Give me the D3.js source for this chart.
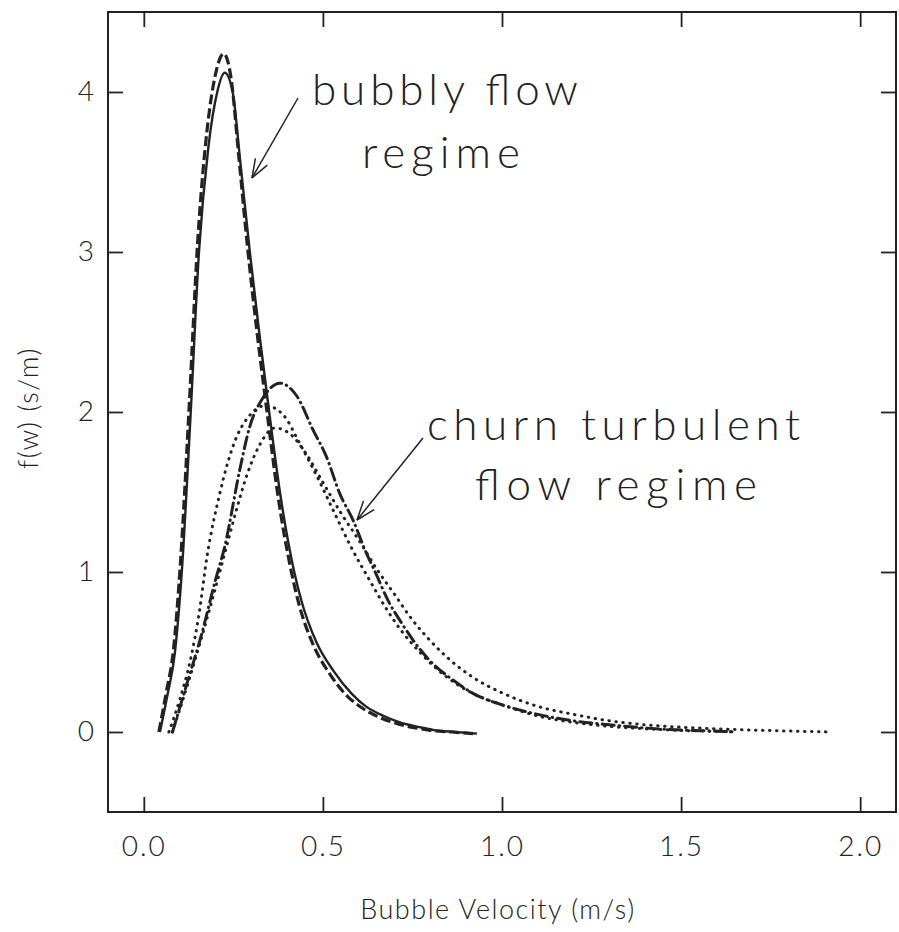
<!DOCTYPE html>
<html>
<head>
<meta charset="utf-8">
<script src="https://cdn.jsdelivr.net/npm/d3@7"></script>
<style>
  body { margin: 0; background: #fff; }
  text { font-family: Lato, "Open Sans", sans-serif; font-weight: 300; fill: #222; }
</style>
</head>
<body>
<script>
const width = 899;
const height = 932;

// axis ticks
const xTicks = [0.0, 0.5, 1.0, 1.5, 2.0];
const yTicks = [0, 1, 2, 3, 4];

// bubbly flow regime curves [velocity, f(w)]
const bubblySolid = [
    [0.045, 0], [0.065, 0.22], [0.087, 0.5], [0.106, 1.0], [0.131, 2.0],
    [0.154, 3.0], [0.18, 3.65], [0.205, 4.0], [0.226, 4.12], [0.248, 4.0],
    [0.27, 3.55], [0.296, 3.0], [0.322, 2.5], [0.35, 2.0], [0.38, 1.5],
    [0.42, 1.0], [0.44, 0.82], [0.48, 0.57], [0.53, 0.38], [0.58, 0.24],
    [0.62, 0.16], [0.67, 0.1], [0.715, 0.06], [0.77, 0.03], [0.81, 0.012],
    [0.87, 0.0], [0.93, -0.01]
];
const bubblyDashed = [
    [0.042, 0], [0.062, 0.24], [0.083, 0.52], [0.102, 1.05], [0.127, 2.05],
    [0.15, 3.05], [0.176, 3.75], [0.201, 4.12], [0.223, 4.24], [0.244, 4.08],
    [0.265, 3.6], [0.29, 3.02], [0.316, 2.5], [0.344, 2.0], [0.373, 1.5],
    [0.412, 1.0], [0.433, 0.8], [0.472, 0.55], [0.52, 0.36], [0.57, 0.22],
    [0.61, 0.15], [0.66, 0.09], [0.71, 0.05], [0.76, 0.025], [0.8, 0.01],
    [0.86, 0.0], [0.92, -0.01]
];

// churn turbulent flow regime curves
const churnDashDot = [
    [0.08, 0], [0.12, 0.3], [0.16, 0.6], [0.2, 0.95], [0.226, 1.16],
    [0.268, 1.64], [0.296, 1.91], [0.333, 2.09], [0.38, 2.18], [0.427, 2.1],
    [0.472, 1.89], [0.51, 1.72], [0.547, 1.49], [0.585, 1.32], [0.617, 1.14],
    [0.65, 0.98], [0.68, 0.83], [0.72, 0.68], [0.77, 0.52], [0.81, 0.42],
    [0.86, 0.33], [0.92, 0.24], [1.0, 0.17], [1.1, 0.11], [1.2, 0.07],
    [1.3, 0.045], [1.4, 0.025], [1.5, 0.012], [1.6, 0.005], [1.65, 0.0]
];
const churnDotA = [
    [0.07, 0], [0.1, 0.2], [0.13, 0.45], [0.155, 0.75], [0.176, 1.09],
    [0.212, 1.49], [0.248, 1.78], [0.3, 1.99], [0.34, 2.04], [0.39, 1.98],
    [0.436, 1.8], [0.483, 1.6], [0.53, 1.38], [0.58, 1.15], [0.63, 0.95],
    [0.68, 0.76], [0.72, 0.63], [0.77, 0.5], [0.82, 0.39], [0.88, 0.29],
    [0.95, 0.21], [1.0, 0.17], [1.1, 0.1], [1.2, 0.06], [1.3, 0.035],
    [1.4, 0.02], [1.5, 0.01], [1.6, 0.004], [1.65, 0.0]
];
const churnDotB = [
    [0.08, 0], [0.12, 0.28], [0.16, 0.58], [0.2, 0.9], [0.23, 1.15],
    [0.26, 1.4], [0.29, 1.62], [0.32, 1.78], [0.366, 1.9], [0.41, 1.86],
    [0.45, 1.75], [0.5, 1.56], [0.55, 1.37], [0.6, 1.2], [0.65, 1.02],
    [0.7, 0.86], [0.75, 0.7], [0.8, 0.57], [0.855, 0.45], [0.92, 0.34],
    [1.0, 0.245], [1.1, 0.16], [1.2, 0.11], [1.3, 0.07], [1.4, 0.045],
    [1.5, 0.03], [1.6, 0.02], [1.7, 0.012], [1.8, 0.006], [1.92, 0.0]
];

const svg = d3
    .select("body")
    .append("svg")
    .attr("width", width)
    .attr("height", height);

const x = d3.scaleLinear().domain([-0.1, 2.1]).range([108, 896]);
const y = d3.scaleLinear().domain([-0.5, 4.5]).range([812, 12]);

const tickLen = 15;

// frame
svg.append("rect")
    .attr("x", x(-0.1))
    .attr("y", y(4.5))
    .attr("width", x(2.1) - x(-0.1))
    .attr("height", y(-0.5) - y(4.5))
    .attr("fill", "none")
    .attr("stroke", "#222")
    .attr("stroke-width", 2);

// ticks point inward on all four sides
const xAxisB = d3.axisBottom(x).tickValues(xTicks).tickSize(-tickLen).tickFormat(d3.format(".1f")).tickPadding(24);
const xAxisT = d3.axisTop(x).tickValues(xTicks).tickSize(-tickLen).tickFormat("");
const yAxisL = d3.axisLeft(y).tickValues(yTicks).tickSize(-tickLen).tickFormat(d3.format("d")).tickPadding(12);
const yAxisR = d3.axisRight(y).tickValues(yTicks).tickSize(-tickLen).tickFormat("");

function styleAxis(g) {
    g.select(".domain").remove();
    g.selectAll(".tick line").attr("stroke", "#222").attr("stroke-width", 1.8);
    g.selectAll(".tick text")
        .attr("font-family", "Lato, 'Open Sans', sans-serif")
        .attr("font-size", 28)
        .attr("letter-spacing", 2)
        .style("fill", "#222");
}

svg.append("g").attr("transform", `translate(0,${y(-0.5)})`).call(xAxisB).call(styleAxis);
svg.append("g").attr("transform", `translate(0,${y(4.5)})`).call(xAxisT).call(styleAxis);
svg.append("g").attr("transform", `translate(${x(-0.1)},0)`).call(yAxisL).call(styleAxis);
svg.append("g").attr("transform", `translate(${x(2.1)},0)`).call(yAxisR).call(styleAxis);

// axis titles
svg.append("text")
    .attr("x", 498)
    .attr("y", 919)
    .attr("text-anchor", "middle")
    .attr("font-size", 27)
    .attr("letter-spacing", 1.5)
    .text("Bubble Velocity (m/s)");

svg.append("text")
    .attr("transform", "translate(38,408) rotate(-90)")
    .attr("text-anchor", "middle")
    .attr("font-size", 27)
    .attr("letter-spacing", 1.5)
    .text("f(w) (s/m)");

// curves
const line = d3.line()
    .x((d) => x(d[0]))
    .y((d) => y(d[1]))
    .curve(d3.curveMonotoneX);

const series = [
    { data: churnDotA, dash: "0.5,6.5", width: 3, cap: "round" },
    { data: churnDotB, dash: "0.5,6.5", width: 3, cap: "round" },
    { data: churnDashDot, dash: "12,5,0.5,5", width: 3, cap: "round" },
    { data: bubblyDashed, dash: "10,4", width: 3.2, cap: "butt" },
    { data: bubblySolid, dash: null, width: 2.4, cap: "butt" },
];

svg.selectAll(".curve")
    .data(series)
    .enter()
    .append("path")
    .attr("class", "curve")
    .attr("d", (d) => line(d.data))
    .attr("fill", "none")
    .attr("stroke", "#222")
    .attr("stroke-width", (d) => d.width)
    .attr("stroke-linecap", (d) => d.cap)
    .attr("stroke-dasharray", (d) => d.dash);

// annotations
function label(txt, x0, x1, base) {
    svg.append("text")
        .attr("x", x0)
        .attr("y", base)
        .attr("font-size", 44)
        .attr("textLength", x1 - x0)
        .attr("lengthAdjust", "spacing")
        .text(txt);
}
label("bubbly flow", 312, 578, 105);
label("regime", 362, 520, 168);
label("churn turbulent", 427, 800, 440);
label("flow regime", 475, 757, 500);

function arrow(x0, y0, x1, y1) {
    svg.append("line")
        .attr("x1", x0).attr("y1", y0)
        .attr("x2", x1).attr("y2", y1)
        .attr("stroke", "#222").attr("stroke-width", 1.5);
    const a = Math.atan2(y0 - y1, x0 - x1);
    const len = 20, spread = 0.35;
    [a - spread, a + spread].forEach((t) => {
        svg.append("line")
            .attr("x1", x1).attr("y1", y1)
            .attr("x2", x1 + len * Math.cos(t)).attr("y2", y1 + len * Math.sin(t))
            .attr("stroke", "#222").attr("stroke-width", 1.5);
    });
}
arrow(298, 98, 252, 178);
arrow(423, 438, 357, 520);
</script>
</body>
</html>
